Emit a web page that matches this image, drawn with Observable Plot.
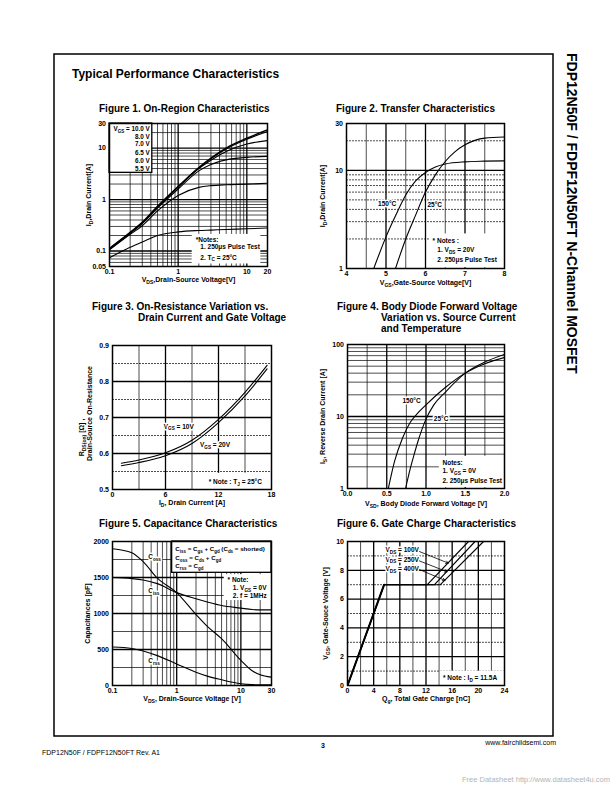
<!DOCTYPE html>
<html><head><meta charset="utf-8">
<script src="https://cdn.jsdelivr.net/npm/d3@7"></script>
<script src="https://cdn.jsdelivr.net/npm/@observablehq/plot@0.6"></script>
<style>
body{margin:0;background:#fff;}
#page{position:relative;width:612px;height:792px;overflow:hidden;background:#fff}
</style></head><body><div id="page"></div>
<script>
// ================= DATA =================
// Figure 1. On-Region Characteristics
const fig1Vds      = [0.1, 0.2, 0.3, 0.5, 1, 2, 3, 5, 10, 20];
const fig1Id_10V   = [0.113, 0.23, 0.36, 0.74, 1.8, 4.2, 6.4, 10.0, 15.5, 22.5];
const fig1Id_8V    = [0.111, 0.226, 0.355, 0.72, 1.76, 4.1, 6.2, 9.6, 14.8, 21];
const fig1Id_7V    = [0.11, 0.224, 0.35, 0.71, 1.74, 4.0, 5.8, 8.6, 12.0, 14];
const fig1Id_6_5V  = [0.108, 0.22, 0.34, 0.68, 1.6, 3.6, 4.8, 5.9, 6.6, 6.9];
const fig1Id_6V    = [0.105, 0.21, 0.31, 0.6, 1.2, 1.72, 1.86, 1.94, 1.99, 2.07];
const fig1Id_5_5V  = [0.074, 0.118, 0.15, 0.2, 0.235, 0.25, 0.255, 0.262, 0.27, 0.28];
const fig1Legend   = ["V_{GS} = 10.0 V", "8.0 V", "7.0 V", "6.5 V", "6.0 V", "5.5 V"];
const fig1XTicks   = [0.1, 1, 10, 20];
const fig1YTicks   = [0.05, 0.1, 1, 10, 30];

// Figure 2. Transfer Characteristics
const fig2Vgs_150C = [4.69, 5.0, 5.25, 5.5, 5.75, 6.0, 6.25, 6.5, 7.0, 7.5, 8.0];
const fig2Id_150C  = [1, 2.1, 3.5, 5.6, 7.8, 9.5, 10.8, 11.6, 12.2, 12.4, 12.5];
const fig2Vgs_25C  = [5.24, 5.5, 5.75, 6.0, 6.25, 6.5, 6.75, 7.0, 7.25, 7.5, 8.0];
const fig2Id_25C   = [1, 2.0, 3.5, 6.0, 9.0, 12.3, 15.5, 18.2, 20.2, 21.3, 21.9];
const fig2XTicks   = [4, 5, 6, 7, 8];
const fig2YTicks   = [1, 10, 30];

// Figure 3. On-Resistance
const fig3Id       = [1, 3, 6, 9, 12, 15, 17.5];
const fig3R_10V    = [0.573, 0.582, 0.602, 0.637, 0.695, 0.77, 0.845];
const fig3R_20V    = [0.566, 0.575, 0.594, 0.628, 0.686, 0.76, 0.835];
const fig3XTicks   = [0, 6, 12, 18];
const fig3YTicks   = [0.5, 0.6, 0.7, 0.8, 0.9];

// Figure 4. Body Diode Forward Voltage
const fig4Vsd_150C = [0.52, 0.6, 0.7, 0.8, 0.9, 1.0, 1.25, 1.5, 1.75, 2.0];
const fig4Is_150C  = [1, 2.4, 5.0, 8.3, 11.3, 14.5, 25.5, 40, 54, 66];
const fig4Vsd_25C  = [0.74, 0.8, 0.85, 0.9, 1.0, 1.1, 1.25, 1.5, 1.75, 2.0];
const fig4Is_25C   = [1, 1.9, 3.0, 4.6, 9.2, 14.5, 22, 40, 57, 73];
const fig4XTicks   = [0, 0.5, 1, 1.5, 2];
const fig4YTicks   = [1, 10, 100];

// Figure 5. Capacitance Characteristics
const fig5Vds      = [0.1, 0.2, 0.3, 0.5, 1, 2, 3, 5, 10, 15, 20, 30];
const fig5Coss     = [1900, 1845, 1720, 1490, 1290, 985, 820, 650, 350, 205, 150, 115];
const fig5Ciss     = [1500, 1485, 1465, 1415, 1290, 1205, 1160, 1110, 1075, 1055, 1050, 1050];
const fig5Crss     = [535, 515, 480, 415, 300, 185, 130, 80, 25, 12, 10, 8];
const fig5XTicks   = [0.1, 1, 10, 30];
const fig5YTicks   = [0, 500, 1000, 1500, 2000];

// Figure 6. Gate Charge Characteristics
const fig6Q_100V   = [0, 5.6, 12.2, 18.5];
const fig6Q_250V   = [0, 5.6, 13.3, 19.5];
const fig6Q_400V   = [0, 5.6, 14.2, 20.8];
const fig6Vgs      = [0, 7, 7, 10];
const fig6XTicks   = [0, 4, 8, 12, 16, 20, 24];
const fig6YTicks   = [0, 2, 4, 6, 8, 10];

// ================= HELPERS =================
const page = document.getElementById("page");
const FONT = '"Liberation Sans", Arial, Helvetica, sans-serif';
const NS = "http://www.w3.org/2000/svg";
const tbl = (xs, ys) => xs.map((x, i) => ({x, y: ys[i]}));

function logGrid(lo, hi) {
  const out = [];
  for (let e = -3; e <= 3; e++) for (let m = 1; m <= 9; m++) {
    const v = +(m * Math.pow(10, e)).toPrecision(3);
    if (v > lo * 1.0001 && v < hi * 0.9999) out.push(v);
  }
  return out;
}
const isPow10 = v => Math.abs(Math.log10(v) - Math.round(Math.log10(v))) < 1e-9;

function rich(el) {
  const s = el.textContent;
  if (!/[_^]\{/.test(s)) return;
  el.textContent = "";
  const parts = s.split(/([_^]\{[^}]*\})/);
  let shift = 0;
  for (const p of parts) {
    if (!p) continue;
    const ts = document.createElementNS(NS, "tspan");
    let d = 0, txt = p, small = false;
    if (p.startsWith("_{")) { d = 1.8; txt = p.slice(2, -1); small = true; }
    else if (p.startsWith("^{")) { d = -2.5; txt = p.slice(2, -1); small = true; }
    const dy = d - shift; shift = d;
    if (dy) ts.setAttribute("dy", dy);
    if (small) ts.style.fontSize = "72%";
    ts.textContent = txt;
    el.appendChild(ts);
  }
}
function richify(root) {
  root.querySelectorAll("text").forEach(t => {
    if (t.children.length) t.querySelectorAll("tspan").forEach(rich); else rich(t);
  });
}

const T = (t, x, y, o = {}) => Plot.text([t], {x, y, text: d => d, fontSize: 6.5, fontWeight: "bold", textAnchor: "start", fill: "black", ...o});
const H = {stroke: "white", strokeWidth: 3, paintOrder: "stroke", fill: "black"};
const R = (x1, x2, y1, y2, o = {}) => Plot.rect([0], {x1, x2, y1, y2, fill: "white", ...o});
const L = (xs, ys, o = {}) => Plot.line(tbl(xs, ys), {x: "x", y: "y", stroke: "black", strokeWidth: 1.1, curve: "monotone-x", clip: true, ...o});
function grid(xMajor, xMinor, yMajor, yMinor, dashX, dashY) {
  return [
    Plot.ruleX(xMinor, {stroke: "black", strokeWidth: 0.7, strokeDasharray: dashX || null}),
    Plot.ruleY(yMinor, {stroke: "black", strokeWidth: 0.7, strokeDasharray: dashY || null}),
    Plot.ruleX(xMajor, {stroke: "black", strokeWidth: 1.3}),
    Plot.ruleY(yMajor, {stroke: "black", strokeWidth: 1.3})
  ];
}

function chart(c) {
  const ml = 50, mr = 14, mt = 10, mb = 30;
  const xf = c.xFmt || (d => String(d)), yf = c.yFmt || (d => String(d));
  const svg = Plot.plot({
    width: c.fw + ml + mr, height: c.fh + mt + mb,
    marginLeft: ml, marginRight: mr, marginTop: mt, marginBottom: mb,
    style: {fontFamily: FONT, fontSize: "7px", fontWeight: "bold", background: "transparent", overflow: "visible", color: "black"},
    x: {...c.x, label: null, axis: null},
    y: {...c.y, label: null, axis: null},
    marks: [
      ...c.marks,
      Plot.frame({stroke: "black", strokeWidth: 1.5}),
      // tick labels
      Plot.text(c.xTicks, {x: d => d, text: xf, frameAnchor: "bottom", dy: 5.5, lineAnchor: "middle", textAnchor: "middle", fontSize: 7, fontWeight: "bold"}),
      Plot.text(c.yTicks, {y: d => d, text: yf, frameAnchor: "left", dx: -3.5, lineAnchor: "middle", textAnchor: "end", fontSize: 7, fontWeight: "bold"}),
      // axis titles
      Plot.text([c.xLabel], {text: d => d, frameAnchor: "bottom", dy: c.xLabelDy || 13.5, lineAnchor: "middle", textAnchor: "middle", fontSize: 7, fontWeight: "bold"}),
      ...c.yLabels.map(([t, dx, dy]) => Plot.text([t], {text: d => d, frameAnchor: "left", dx, dy: dy || 0, rotate: -90, textAnchor: "middle", lineAnchor: "middle", fontSize: 7, fontWeight: "bold"}))
    ]
  });
  richify(svg);
  svg.style.position = "absolute";
  svg.style.left = (c.fx - ml) + "px";
  svg.style.top = (c.fy - mt) + "px";
  page.appendChild(svg);
}

// ================= PAGE =================
const bg = d3.create("svg").attr("width", 612).attr("height", 792)
  .style("position", "absolute").style("left", 0).style("top", 0).style("font-family", FONT);
bg.append("rect").attr("x", 54).attr("y", 54).attr("width", 499).attr("height", 682)
  .attr("fill", "none").attr("stroke", "black").attr("stroke-width", 1.5);
const pt = (s, x, y, size, o = {}) => {
  const t = bg.append("text").attr("x", x).attr("y", y).attr("font-size", size)
    .attr("font-weight", o.weight || "bold").attr("text-anchor", o.anchor || "start")
    .attr("fill", o.fill || "black").text(s);
  if (o.rotate) t.attr("transform", `rotate(${o.rotate},${x},${y})`);
  return t;
};
pt("Typical Performance Characteristics", 72, 78, 12);
pt("Figure 1. On-Region Characteristics", 99, 112, 10);
pt("Figure 2. Transfer Characteristics", 336, 112, 10);
pt("Figure 3. On-Resistance Variation vs.", 92, 310, 10);
pt("Drain Current and Gate Voltage", 138, 321, 10);
pt("Figure 4. Body Diode Forward Voltage", 337, 310, 10);
pt("Variation vs. Source Current", 381, 321, 10);
pt("and Temperature", 381, 332, 10);
pt("Figure 5. Capacitance Characteristics", 99, 527, 10);
pt("Figure 6. Gate Charge Characteristics", 337, 527, 10);
pt("FDP12N50F / FDPF12N50FT N-Channel MOSFET", 567, 53, 14, {rotate: 90});
pt("FDP12N50F / FDPF12N50FT Rev. A1", 42, 755, 7, {weight: "normal"});
pt("3", 323, 748, 7, {anchor: "middle"});
pt("www.fairchildsemi.com", 556, 745, 7, {weight: "normal", anchor: "end"});
pt("Free Datasheet http://www.datasheet4u.com", 610, 782, 7.5, {weight: "normal", anchor: "end", fill: "#b4b4b4"});
page.appendChild(bg.node());

// ================= FIGURE 1 =================
{
  const gx = logGrid(0.1, 20), gy = logGrid(0.05, 30);
  chart({
    fx: 109, fy: 123, fw: 158, fh: 143,
    x: {type: "log", domain: [0.1, 20]}, y: {type: "log", domain: [0.05, 30]},
    xTicks: fig1XTicks, yTicks: fig1YTicks,
    xLabel: "V_{DS},Drain-Source Voltage[V]",
    yLabels: [["I_{D},Drain Current[A]", -21]],
    marks: [
      ...grid(gx.filter(isPow10), gx.filter(v => !isPow10(v)), gy.filter(isPow10), gy.filter(v => !isPow10(v))),
      R(1.6, 16, 0.056, 0.21),
      R(0.1, 0.42, 3.3, 30, {stroke: "black", strokeWidth: 1.3}),
      L(fig1Vds, fig1Id_10V, {strokeWidth: 1.4}),
      L(fig1Vds, fig1Id_8V),
      L(fig1Vds, fig1Id_7V),
      L(fig1Vds, fig1Id_6_5V),
      L(fig1Vds, fig1Id_6V),
      L(fig1Vds, fig1Id_5_5V),
      ...fig1Legend.map((t, i) => T(t, 0.385, [23.5, 16.5, 12, 8.2, 5.7, 4.0][i], {textAnchor: "end", fontSize: 6.3})),
      T("*Notes:", 1.8, 0.165),
      T("1. 250\u03BCs Pulse Test", 2.1, 0.118),
      T("2. T_{C} = 25\u00B0C", 2.1, 0.075)
    ]
  });
}

// ================= FIGURE 2 =================
{
  const gy = logGrid(1, 30);
  chart({
    fx: 346, fy: 123, fw: 158, fh: 145,
    x: {domain: [4, 8]}, y: {type: "log", domain: [1, 30]},
    xTicks: fig2XTicks, yTicks: fig2YTicks,
    xLabel: "V_{GS},Gate-Source Voltage[V]", xLabelDy: 14,
    yLabels: [["I_{D},Drain Current[A]", -24]],
    marks: [
      ...grid([5, 6, 7], [4.5, 5.5, 6.5, 7.5], gy.filter(isPow10), gy.filter(v => !isPow10(v)), null, "2,1"),
      R(6.1, 8, 1.02, 2.25),
      L(fig2Vgs_150C, fig2Id_150C),
      L(fig2Vgs_25C, fig2Id_25C),
      T("150\u00B0C", 4.8, 4.6, {...H}),
      T("25\u00B0C", 6.05, 4.4, {...H}),
      T("* Notes :", 6.18, 1.9),
      T("1. V_{DS} = 20V", 6.3, 1.53),
      T("2. 250\u03BCs Pulse Test", 6.3, 1.23)
    ]
  });
}

// ================= FIGURE 3 =================
chart({
  fx: 112, fy: 345, fw: 159, fh: 144,
  x: {domain: [0, 18]}, y: {domain: [0.5, 0.9]},
  xTicks: fig3XTicks, yTicks: fig3YTicks, yFmt: d3.format(".1f"),
  xLabel: "I_{D}, Drain Current [A]",
  yLabels: [["R_{DS(on)} [\u03A9] ,", -31, 20], ["Drain-Source On-Resistance", -23, -4]],
  marks: [
    ...grid([6, 12], [3, 9, 15], [0.6, 0.7, 0.8], [0.55, 0.65, 0.75, 0.85], null, "2,1"),
    R(10.5, 18, 0.5, 0.545),
    L(fig3Id, fig3R_10V),
    L(fig3Id, fig3R_20V),
    T("V_{GS} = 10V", 5.8, 0.675, {...H}),
    T("V_{GS} = 20V", 9.9, 0.623, {...H}),
    T("* Note : T_{J} = 25\u00B0C", 10.9, 0.521)
  ]
});

// ================= FIGURE 4 =================
{
  const gy = logGrid(1, 100);
  chart({
    fx: 347, fy: 344, fw: 157, fh: 144,
    x: {domain: [0, 2]}, y: {type: "log", domain: [1, 100]},
    xTicks: fig4XTicks, yTicks: fig4YTicks, xFmt: d => d.toFixed(1),
    xLabel: "V_{SD}, Body Diode Forward Voltage [V]", xLabelDy: 15,
    yLabels: [["I_{S}, Reverse Drain Current [A]", -25]],
    marks: [
      ...grid([0.5, 1, 1.5], [0.25, 0.75, 1.25, 1.75], gy.filter(isPow10), gy.filter(v => !isPow10(v))),
      R(1.17, 2, 1.03, 2.8),
      L(fig4Vsd_150C, fig4Is_150C),
      L(fig4Vsd_25C, fig4Is_25C),
      T("150\u00B0C", 0.7, 16.3, {...H}),
      T("25\u00B0C", 1.1, 9.4, {...H}),
      T("Notes:", 1.21, 2.3),
      T("1. V_{GS} = 0V", 1.21, 1.76),
      T("2. 250\u03BCs Pulse Test", 1.21, 1.29)
    ]
  });
}

// ================= FIGURE 5 =================
{
  const gx = logGrid(0.1, 30);
  chart({
    fx: 112, fy: 541, fw: 159, fh: 144,
    x: {type: "log", domain: [0.1, 30]}, y: {domain: [0, 2000]},
    xTicks: fig5XTicks, yTicks: fig5YTicks,
    xLabel: "V_{DS}, Drain-Source Voltage [V]",
    yLabels: [["Capacitances [pF]", -25]],
    marks: [
      ...grid(gx.filter(isPow10), gx.filter(v => !isPow10(v)), [500, 1000, 1500], [250, 750, 1250, 1750]),
      R(5.5, 30, 1180, 1540),
      L(fig5Vds, fig5Coss),
      L(fig5Vds, fig5Ciss),
      L(fig5Vds, fig5Crss),
      R(0.85, 30, 1565, 2000, {stroke: "black", strokeWidth: 1.3}),
      T("C_{iss} = C_{gs} + C_{gd} (C_{ds} = shorted)", 0.95, 1898, {fontSize: 6.2}),
      T("C_{oss} = C_{ds} + C_{gd}", 0.95, 1773, {fontSize: 6.2}),
      T("C_{rss} = C_{gd}", 0.95, 1657, {fontSize: 6.2}),
      T("C_{oss}", 0.36, 1780, {...H}),
      T("C_{iss}", 0.36, 1315, {...H}),
      T("C_{rss}", 0.36, 345, {...H}),
      T("* Note:", 6.2, 1463),
      T("1. V_{GS} = 0V", 7.5, 1357),
      T("2. f = 1MHz", 7.5, 1250)
    ]
  });
}

// ================= FIGURE 6 =================
chart({
  fx: 347, fy: 541, fw: 157, fh: 144,
  x: {domain: [0, 24]}, y: {domain: [0, 10]},
  xTicks: fig6XTicks, yTicks: fig6YTicks,
  xLabel: "Q_{g}, Total Gate Charge [nC]",
  yLabels: [["V_{GS}, Gate-Souce Voltage [V]", -22]],
  marks: [
    ...grid([4, 8, 12, 16, 20], [2, 6, 10, 14, 18, 22], [2, 4, 6, 8], [1, 3, 5, 7, 9], null, "2,1"),
    R(14.2, 24, 0, 1.0),
    L(fig6Q_100V, fig6Vgs, {curve: "linear"}),
    L(fig6Q_250V, fig6Vgs, {curve: "linear"}),
    L(fig6Q_400V, fig6Vgs, {curve: "linear"}),
    L(fig6Q_100V.slice(0, 2), fig6Vgs.slice(0, 2), {curve: "linear", strokeWidth: 2}),
    T("V_{DS} = 100V", 5.8, 9.4, {...H}),
    T("V_{DS} = 250V", 5.8, 8.75, {...H}),
    T("V_{DS} = 400V", 5.8, 8.1, {...H}),
    Plot.arrow([0], {x1: 11.0, y1: 9.3, x2: 15.4, y2: 8.5, stroke: "black", strokeWidth: 0.8, headLength: 5}),
    Plot.arrow([0], {x1: 11.0, y1: 8.65, x2: 15.2, y2: 7.9, stroke: "black", strokeWidth: 0.8, headLength: 5}),
    Plot.arrow([0], {x1: 11.0, y1: 8.05, x2: 14.9, y2: 7.3, stroke: "black", strokeWidth: 0.8, headLength: 5}),
    T("* Note : I_{D} = 11.5A", 14.6, 0.5)
  ]
});
</script></body></html>
